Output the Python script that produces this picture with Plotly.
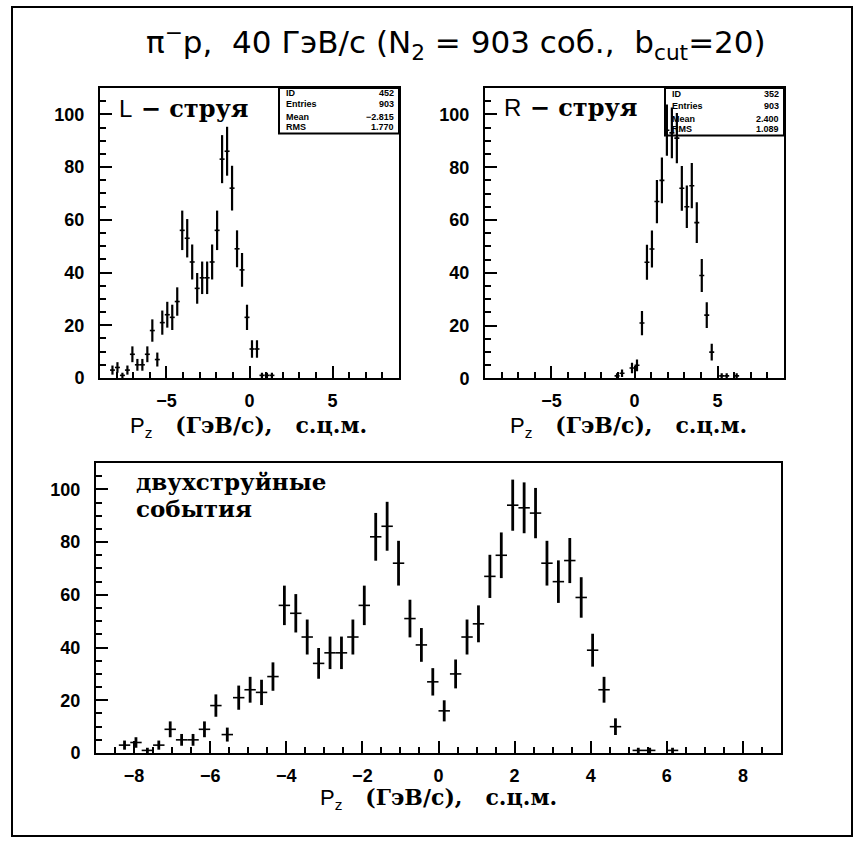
import numpy as np
import plotly.graph_objects as go

# Histogram binning: 60 bins of 0.3 GeV/c from -9 to 9
BIN_LO, BIN_HI, N_BINS = -9.0, 9.0, 60

# Counts per bin, left jet (L)
L_COUNTS = [0, 0, 3, 4, 1, 3, 9, 5, 5, 9,
            18, 7, 21, 24, 23, 29, 56, 53, 44, 34,
            38, 38, 44, 56, 83, 86, 72, 49, 41, 23,
            11, 11, 1, 1, 1, 0, 0, 0, 0, 0,
            0, 0, 0, 0, 0, 0, 0, 0, 0, 0,
            0, 0, 0, 0, 0, 0, 0, 0, 0, 0]

# Counts per bin, right jet (R)
R_COUNTS = [0, 0, 0, 0, 0, 0, 0, 0, 0, 0,
            0, 0, 0, 0, 0, 0, 0, 0, 0, 0,
            0, 0, 0, 0, 0, 0, 1, 2, 0, 4,
            5, 21, 44, 49, 67, 75, 94, 93, 91, 72,
            65, 73, 59, 39, 24, 10, 0, 1, 1, 0,
            1, 0, 0, 0, 0, 0, 0, 0, 0, 0]

# Counts per bin, two-jet events (both jets)
BOTH_COUNTS = [0, 0, 3, 4, 1, 3, 9, 5, 5, 9,
               18, 7, 21, 24, 23, 29, 56, 53, 44, 34,
               38, 38, 44, 56, 82, 86, 72, 51, 41, 27,
               16, 30, 44, 49, 67, 75, 94, 93, 91, 72,
               65, 73, 59, 39, 24, 10, 0, 1, 1, 0,
               1, 0, 0, 0, 0, 0, 0, 0, 0, 0]

# Statistics boxes
L_STATS = [("ID", "452"), ("Entries", "903"), ("Mean", "\u22122.815"), ("RMS", "1.770")]
R_STATS = [("ID", "352"), ("Entries", "903"), ("Mean", "2.400"), ("RMS", "1.089")]

SP = "\u00a0"
TITLE = ("\u03c0<sup>\u2212</sup>p," + SP * 2 + "40 \u0413\u044d\u0412/c (N<sub>2</sub> = 903 \u0441\u043e\u0431.,"
         + SP * 2 + "b<sub>cut</sub>=20)")
XLABEL = ("<span style=\"font-family:'Liberation Sans';font-weight:normal\">P<sub>z</sub></span>"
          + SP * 3 + "(\u0413\u044d\u0412/c)," + SP * 3 + "\u0441.\u0446.\u043c.")
L_LABEL = ("<span style=\"font-family:'Liberation Sans';font-weight:normal\">L</span>"
           " \u2212 \u0441\u0442\u0440\u0443\u044f")
R_LABEL = ("<span style=\"font-family:'Liberation Sans';font-weight:normal\">R</span>"
           " \u2212 \u0441\u0442\u0440\u0443\u044f")
BOTH_LABEL_1 = "\u0434\u0432\u0443\u0445\u0441\u0442\u0440\u0443\u0439\u043d\u044b\u0435"
BOTH_LABEL_2 = "\u0441\u043e\u0431\u044b\u0442\u0438\u044f"

W, H = 860, 850


def fx(x):
    return x / W


def fy(y):
    return 1 - y / H


edges = np.linspace(BIN_LO, BIN_HI, N_BINS + 1)
centers = 0.5 * (edges[:-1] + edges[1:])
half_w = 0.5 * (edges[1] - edges[0])

fig = go.Figure()


def add_hist(counts, xa, ya, vthick):
    c = np.asarray(counts, dtype=float)
    m = c > 0
    fig.add_trace(go.Scatter(
        x=centers[m], y=c[m], mode="markers",
        marker=dict(size=2, color="rgba(0,0,0,0)", line=dict(width=0)),
        error_y=dict(type="data", array=np.sqrt(c[m]), thickness=vthick, width=0, color="black"),
        error_x=dict(type="constant", value=half_w, thickness=1.6, width=0, color="black"),
        xaxis=xa, yaxis=ya, showlegend=False, hoverinfo="skip"))


add_hist(L_COUNTS, "x", "y", 2.2)
add_hist(R_COUNTS, "x2", "y2", 2.2)
add_hist(BOTH_COUNTS, "x3", "y3", 2.8)

tickfont = dict(family="Liberation Sans", size=18, color="black", weight="bold")


def xaxis_style(domain, anchor, dtick, minor_dtick):
    return dict(domain=domain, anchor=anchor, range=[BIN_LO, BIN_HI], tick0=0, dtick=dtick,
                ticks="inside", ticklen=12, tickwidth=2, tickcolor="black",
                minor=dict(dtick=minor_dtick, tick0=0, ticks="inside", ticklen=6, tickwidth=2, tickcolor="black"),
                showline=True, linewidth=2, linecolor="black", mirror=True,
                showgrid=False, zeroline=False, tickfont=tickfont, ticklabelstandoff=5,
                fixedrange=True)


def yaxis_style(domain, anchor):
    return dict(domain=domain, anchor=anchor, range=[0, 110], tick0=0, dtick=20,
                ticks="inside", ticklen=12, tickwidth=2, tickcolor="black",
                minor=dict(dtick=5, tick0=0, ticks="inside", ticklen=6, tickwidth=2, tickcolor="black"),
                showline=True, linewidth=2, linecolor="black", mirror=True,
                showgrid=False, zeroline=False, tickfont=tickfont, ticklabelstandoff=10,
                fixedrange=True)


fig.update_layout(
    width=W, height=H, margin=dict(l=0, r=0, t=0, b=0),
    paper_bgcolor="white", plot_bgcolor="white",
    xaxis=xaxis_style([fx(100), fx(399)], "y", 5, 1),
    yaxis=yaxis_style([fy(382.5), fy(89)], "x"),
    xaxis2=xaxis_style([fx(485), fx(784)], "y2", 5, 1),
    yaxis2=yaxis_style([fy(383), fy(89)], "x2"),
    xaxis3=xaxis_style([fx(96), fx(781)], "y3", 2, 0.5),
    yaxis3=yaxis_style([fy(762), fy(468.5)], "x3"),
)

shapes = [
    # page border
    dict(type="rect", xref="paper", yref="paper", x0=fx(12), x1=fx(852), y0=fy(846), y1=fy(7),
         line=dict(color="black", width=2)),
    # statistics boxes
    dict(type="rect", xref="paper", yref="paper", x0=fx(279), x1=fx(399), y0=fy(135), y1=fy(89),
         line=dict(color="black", width=2), layer="below"),
    dict(type="rect", xref="paper", yref="paper", x0=fx(665), x1=fx(784), y0=fy(137), y1=fy(89),
         line=dict(color="black", width=2), layer="below"),
]

ann = []
statfont = dict(family="Liberation Sans", size=9, color="black", weight="bold")


def add_stats(stats, xl, xr, rows):
    for (k, v), yy in zip(stats, rows):
        ann.append(dict(x=fx(xl), y=fy(yy), xref="paper", yref="paper", text=k, showarrow=False,
                        xanchor="left", yanchor="middle", font=statfont))
        ann.append(dict(x=fx(xr), y=fy(yy), xref="paper", yref="paper", text=v, showarrow=False,
                        xanchor="right", yanchor="middle", font=statfont))


add_stats(L_STATS, 284, 396, [94, 105, 118, 129])
add_stats(R_STATS, 670, 781, [95, 107, 120, 131])

labfont = dict(family="DejaVu Serif", size=22, color="black", weight="bold")
panelfont = dict(family="DejaVu Serif", size=24, color="black", weight="bold")
bothfont = dict(family="DejaVu Serif", size=23, color="black", weight="bold")


def text_at(x, y, txt, font, xanchor="center"):
    ann.append(dict(x=fx(x), y=fy(y), xref="paper", yref="paper", text=txt, showarrow=False,
                    xanchor=xanchor, yanchor="middle", font=font))


text_at(456, 43, TITLE, dict(family="DejaVu Sans", size=31, color="black"))
text_at(248, 432, XLABEL, labfont)
text_at(628, 432, XLABEL, labfont)
text_at(438, 808, XLABEL, labfont)
text_at(117, 110, L_LABEL, panelfont, "left")
text_at(502, 109, R_LABEL, panelfont, "left")
text_at(134, 487, BOTH_LABEL_1, bothfont, "left")
text_at(134, 515, BOTH_LABEL_2, bothfont, "left")

fig.update_layout(shapes=shapes, annotations=ann)
fig.write_html("out.html")
